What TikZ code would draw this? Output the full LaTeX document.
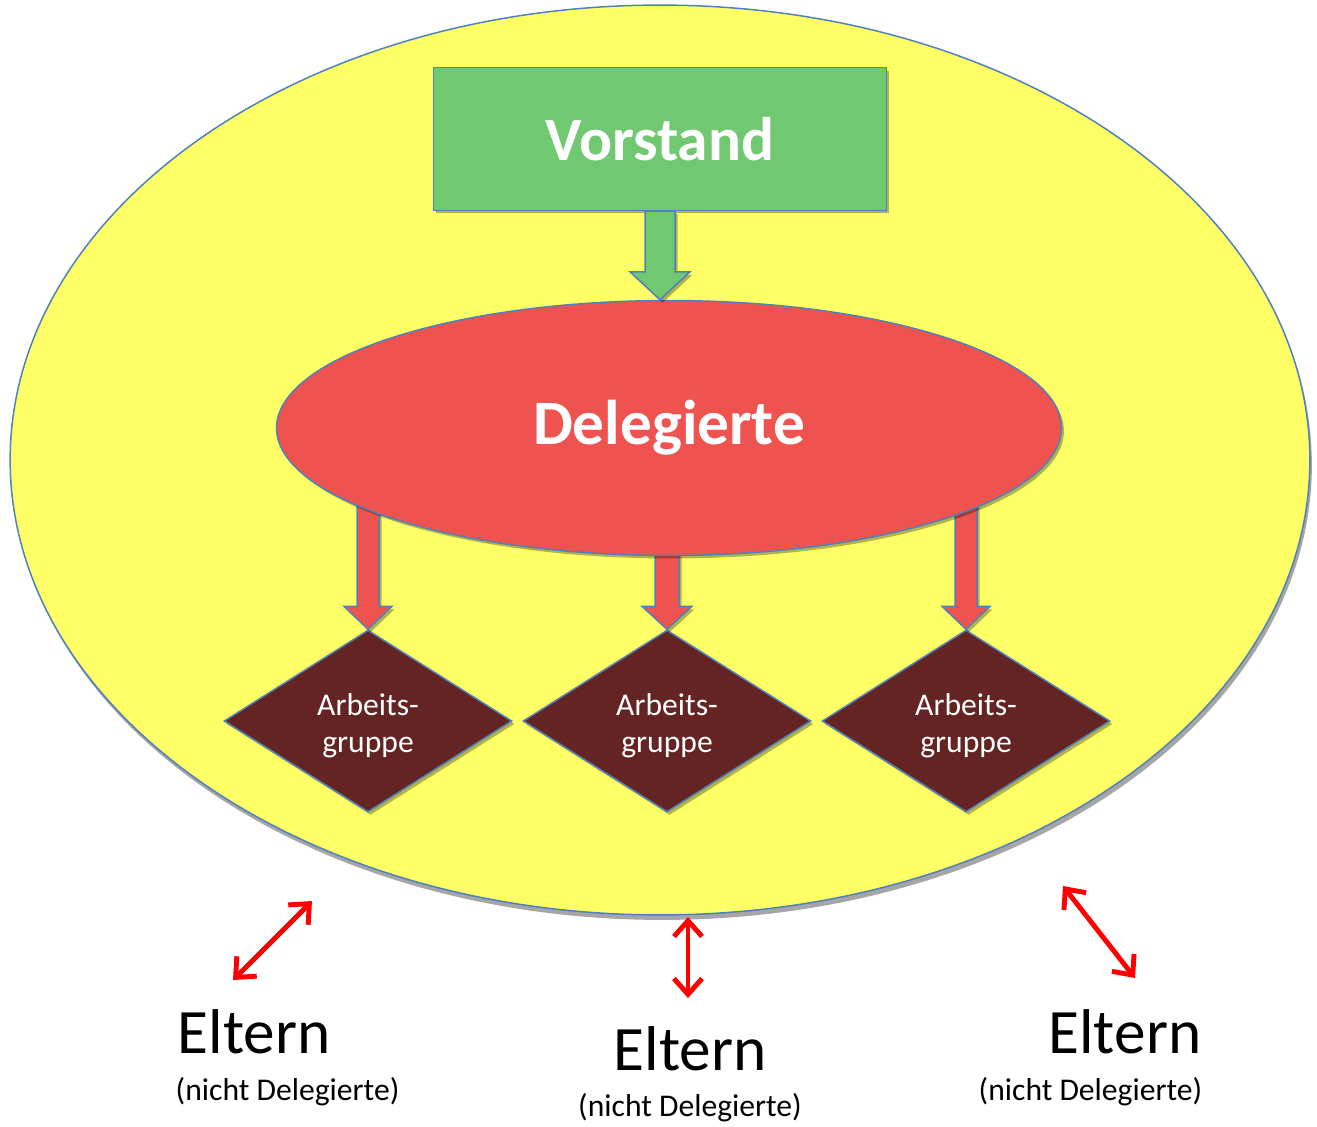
\documentclass[tikz,border=0pt]{standalone}
\usepackage{fontspec}
\setmainfont{Carlito}
\usetikzlibrary{%
  arrows.meta,%
  shapes.geometric,% wg. ellipse, diamond
  shadows,%
  calc,%
  positioning%
}

\definecolor{gelb}{HTML}{FFFF66}
\definecolor{rand}{HTML}{4F81BD}
\definecolor{gruen}{HTML}{70C870}
\definecolor{rot}{HTML}{EF5350}
\definecolor{braun}{HTML}{632423}

% block arrow: style, start, tip, half shaft, half head, head length
\newcommand{\blockarrow}[6]{%
  \draw[#1] ($(#2)+(-#4,0)$) -- ($(#3)+(-#4,-#6)$) -- ($(#3)+(-#5,-#6)$) -- (#3)
    -- ($(#3)+(#5,-#6)$) -- ($(#3)+(#4,-#6)$) -- ($(#2)+(#4,0)$) -- cycle;
}

\begin{document}
\begin{tikzpicture}
[x=0.02cm, y=-0.02cm, draw=rand, line width=0.85pt,
schatten/.style={drop shadow={shadow xshift=0.05cm, shadow yshift=-0.06cm, opacity=0.3, fill=black}},
elternkreis/.style={ellipse, draw=rand, fill=gelb, inner sep=0pt, minimum width=26cm, minimum height=18.2cm,
  drop shadow={shadow xshift=0.04cm, shadow yshift=-0.1cm, opacity=1, fill=gray!70}},
vorstandbox/.style={rectangle, draw=rand, fill=gruen, schatten, minimum width=9.06cm, minimum height=2.86cm,
  text=white, font=\fontsize{35pt}{42pt}\selectfont\bfseries},
delegell/.style={ellipse, draw=rand, fill=rot, schatten, inner sep=0pt, minimum width=15.7cm, minimum height=5.1cm,
  text=white, font=\fontsize{36pt}{43pt}\selectfont\bfseries},
agruppe/.style={diamond, aspect=1.6, draw=rand, fill=braun, schatten, inner sep=0pt, minimum width=5.76cm,
  minimum height=3.64cm, text=white, font=\fontsize{18pt}{21.5pt}\selectfont},
gruenpfeil/.style={draw=rand, fill=gruen, schatten},
rotpfeil/.style={draw=rand, fill=rot, schatten},
doppelpfeil/.style={draw=red, line width=2.8pt, line cap=round, {Straight Barb[length=9pt,width=16pt]}-{Straight Barb[length=9pt,width=16pt]}},
eltern/.style={inner sep=0pt, font=\fontsize{36pt}{43pt}\selectfont},
nicht/.style={inner sep=0pt, font=\fontsize{18pt}{21.5pt}\selectfont}
]

\useasboundingbox (0,0) rectangle (1317,1126);

\node[elternkreis] (kreis) at (660,460) {};

% Arbeitsgruppen
\foreach \x/\i in {368/1,667/2,966/3} {
  \node[agruppe] (ag\i) at (\x,721)
    {\raisebox{-0.26cm}[0pt][0pt]{\begin{tabular}{@{}c@{}}Arbeits-\\gruppe\end{tabular}}};
}

\node[vorstandbox] (vorstand) at (660,139) {Vorstand};

\coordinate (dmitte) at (669,428);
\blockarrow{rotpfeil}{ag1.north |- dmitte}{ag1.north}{11}{24}{23}
\blockarrow{rotpfeil}{ag2.north |- dmitte}{ag2.north}{12}{25}{23}
\blockarrow{rotpfeil}{ag3.north |- dmitte}{ag3.north}{11}{24}{23}

\node[delegell] (deleg) at (dmitte) {Delegierte};

\blockarrow{gruenpfeil}{vorstand.south}{vorstand.south |- deleg.north}{15}{30}{28}

% Eltern
\node[eltern, anchor=base west] (elternA) at (177,1053) {Eltern};
\node[nicht, anchor=base west] (nichtA) at (175,1100) {(nicht Delegierte)};
\node[eltern, anchor=base] (elternB) at (690,1070) {Eltern};
\node[nicht, anchor=base] (nichtB) at (690,1116) {(nicht Delegierte)};
\node[eltern, anchor=base east] (elternC) at (1202,1053) {Eltern};
\node[nicht, anchor=base east] (nichtC) at (1203,1100) {(nicht Delegierte)};

\coordinate (pa1) at (233,980);
\coordinate (pa2) at (312,901);
\coordinate (pb1) at (688,917);
\coordinate (pb2) at (688,998);
\coordinate (pc1) at (1063,886);
\coordinate (pc2) at (1135,978);

\draw[doppelpfeil] (pa1) -- (pa2);
\draw[doppelpfeil] (pb1) -- (pb2);
\draw[doppelpfeil] (pc1) -- (pc2);
\end{tikzpicture}
\end{document}
